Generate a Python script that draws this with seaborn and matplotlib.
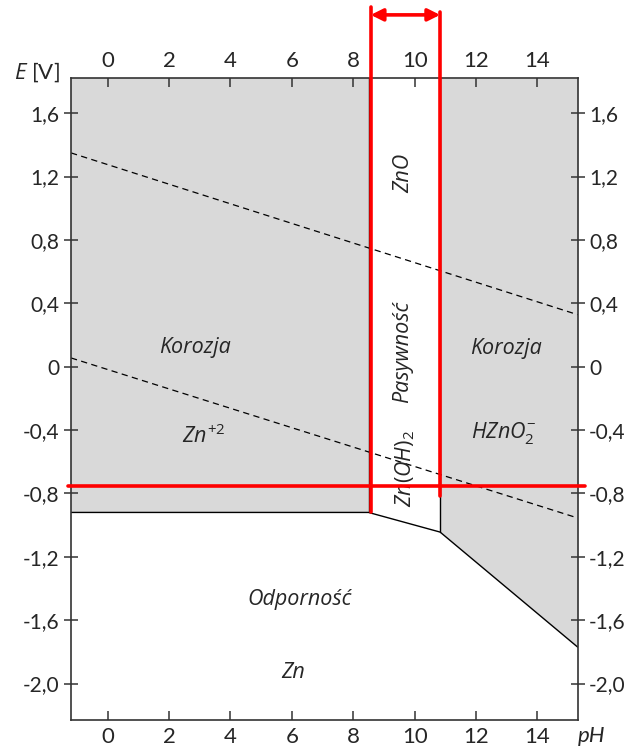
import numpy as np
import pandas as pd
import matplotlib
matplotlib.use("Agg")
import matplotlib.pyplot as plt
import seaborn as sns

# --- data (pH, E [V]) ---
x_ticks = [0, 2, 4, 6, 8, 10, 12, 14]
y_ticks = [1.6, 1.2, 0.8, 0.4, 0.0, -0.4, -0.8, -1.2, -1.6, -2.0]
y_ticklabels = ["1,6", "1,2", "0,8", "0,4", "0", "-0,4", "-0,8", "-1,2", "-1,6", "-2,0"]

ph_min, ph_max = -1.19, 15.31
e_min, e_max = -2.23, 1.82

# immunity boundary (bottom of corrosion / passivity areas)
bound_ph = [-1.19, 8.5, 10.83, 15.31]
bound_e = [-0.92, -0.92, -1.044, -1.77]

# water stability lines (dashed)
o2_ph = [-1.19, 15.31]
o2_e = [1.349, 0.328]
h2_ph = [-1.19, 15.31]
h2_e = [0.055, -0.955]

# red marking of the passivity range
red_left_ph, red_right_ph = 8.57, 10.83
red_left_e = [2.27, -0.92]
red_right_e = [2.24, -0.815]
red_arrow_e = 2.22
red_hline_e = -0.756
red_hline_ph = [-1.28, 15.55]

sns.set_theme(style="white")
plt.rcParams["font.family"] = ["Lato", "DejaVu Sans"]
plt.rcParams["mathtext.fontset"] = "custom"
plt.rcParams["mathtext.it"] = "Open Sans:italic"
plt.rcParams["mathtext.rm"] = "Open Sans"

fig = plt.figure(figsize=(6.28, 7.49), dpi=100)
ax = fig.add_axes([0.1131, 0.0387, 0.8068, 0.8568])
ax.set_xlim(ph_min, ph_max)
ax.set_ylim(e_min, e_max)

grey = "#d9d9d9"
# corrosion areas
ax.fill_between(bound_ph[:2], bound_e[:2], e_max, color=grey, lw=0, zorder=0)
ax.fill_between(bound_ph[2:], bound_e[2:], e_max, color=grey, lw=0, zorder=0)

lines = pd.DataFrame({"pH": bound_ph, "E": bound_e})
sns.lineplot(data=lines, x="pH", y="E", color="black", lw=1.0, sort=False,
             estimator=None, ax=ax, zorder=2)
ax.plot([bound_ph[1], bound_ph[1]], [bound_e[1], e_max], color="black", lw=1.0, zorder=2)
ax.plot([bound_ph[2], bound_ph[2]], [bound_e[2], e_max], color="black", lw=1.0, zorder=2)

for px, py in [(o2_ph, o2_e), (h2_ph, h2_e)]:
    sns.lineplot(x=px, y=py, color="black", lw=0.9, ax=ax, zorder=1,
                 estimator=None, sort=False, linestyle=(0, (5, 3.5)))

# region labels
lab = dict(family=["Open Sans", "DejaVu Sans"], style="italic", fontsize=15.5,
           ha="center", va="center", zorder=3)
ax.text(2.85, 0.118, "Korozja", **lab)
ax.text(3.12, -0.44, r"$\mathit{Zn}^{\mathit{+2}}$", **lab)
ax.text(12.98, 0.113, "Korozja", **lab)
ax.text(12.89, -0.42, r"$\mathit{HZnO}_{\mathit{2}}^{-}$", **lab)
ax.text(9.63, 1.222, "ZnO", rotation=90, **lab)
ax.text(9.62, 0.096, "Pasywność", rotation=90, **lab)
ax.text(9.69, -0.644, r"$\mathit{Zn(OH)}_{\mathit{2}}$", rotation=90, **lab)
ax.text(6.27, -1.47, "Odporność", **lab)
ax.text(6.05, -1.93, "Zn", **lab)

# red annotation
red = "#ff0000"
ax.plot([red_left_ph, red_left_ph], red_left_e, color=red, lw=2.6, clip_on=False, zorder=5)
ax.plot([red_right_ph, red_right_ph], red_right_e, color=red, lw=2.6, clip_on=False, zorder=5)
ax.plot(red_hline_ph, [red_hline_e, red_hline_e], color=red, lw=2.6, clip_on=False, zorder=5)
ax.annotate("", xy=(red_right_ph, red_arrow_e), xytext=(red_left_ph, red_arrow_e),
            annotation_clip=False, zorder=6,
            arrowprops=dict(arrowstyle="<|-|>", color=red, lw=2.6,
                            mutation_scale=18, shrinkA=0, shrinkB=0))

# axes styling
for s in ax.spines.values():
    s.set_color("#333333")
    s.set_linewidth(1.2)
ax.set_xticks(x_ticks)
ax.set_xticklabels([str(v) for v in x_ticks])
ax.set_yticks(y_ticks)
ax.set_yticklabels(y_ticklabels)
ax.tick_params(axis="x", direction="in", length=6.5, width=1.1, color="#333333",
               top=True, labeltop=True, bottom=True, labelbottom=True,
               labelsize=16, pad=5)
ax.tick_params(axis="y", direction="inout", length=9.5, width=1.1, color="#333333",
               left=True, right=True, labelleft=True, labelright=True,
               labelsize=15, pad=3.5)
ax.set_xlabel("")
ax.set_ylabel("")

ax.text(-2.3, 1.86, r"$\mathit{E}$ [V]", fontsize=16, ha="center", va="center",
        clip_on=False)
ax.text(15.75, -2.33, "pH", fontsize=16, style="italic", ha="center", va="center",
        clip_on=False)

fig.savefig("out.png", dpi=100, facecolor="white")
